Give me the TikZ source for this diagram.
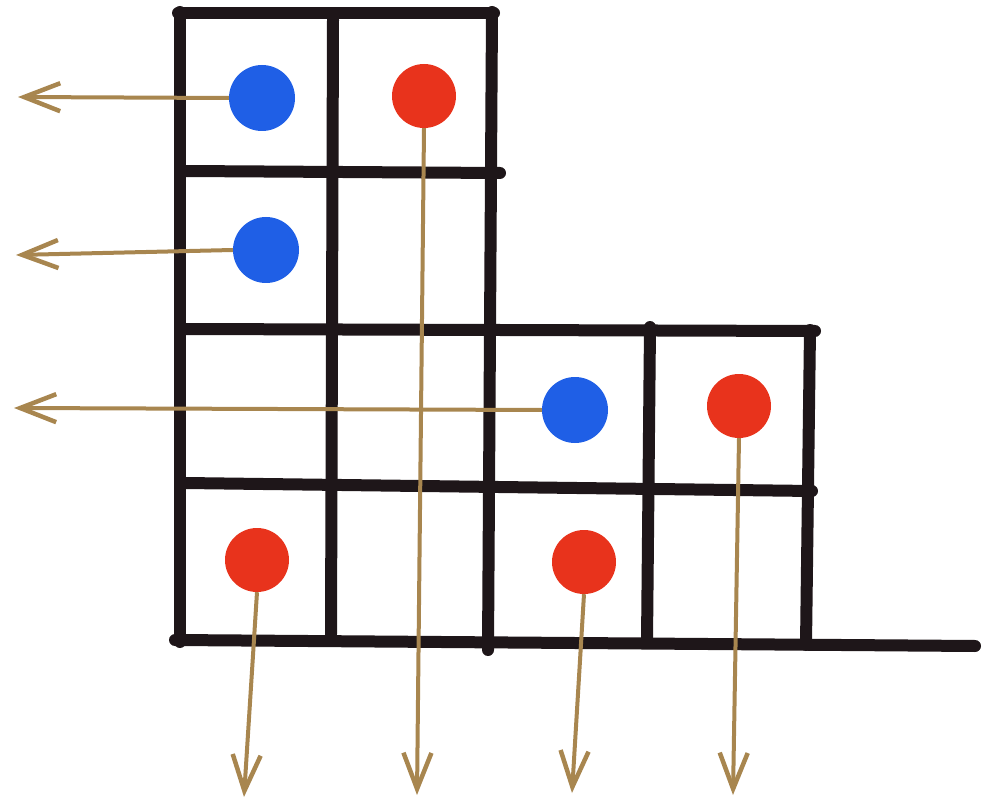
\documentclass[tikz,border=0pt]{standalone}
\usetikzlibrary{arrows.meta}
\definecolor{gridink}{HTML}{1E1619}
\definecolor{dotblue}{HTML}{1F5FE6}
\definecolor{dotred}{HTML}{E8331C}
\definecolor{shaft}{HTML}{A8864F}
\tikzset{
  gridline/.style={draw=gridink,line width=12pt,line cap=round},
  bluedot/.style={circle,fill=dotblue,minimum size=66pt,inner sep=0pt},
  reddot/.style={circle,fill=dotred,minimum size=64pt,inner sep=0pt},
  pointer/.style={draw=shaft,line width=4pt,-{Straight Barb[length=36pt,width=28pt,line width=4.5pt]}},
}
\begin{document}
\begin{tikzpicture}[x=1pt,y=-1pt]
\useasboundingbox (0,0) rectangle (986,805);
% grid
\draw[gridline] (180,12) -- (180,642);
\draw[gridline] (333,20) -- (331,634);
\draw[gridline] (492,12) -- (488,650);
\draw[gridline] (650,327) -- (647,642);
\draw[gridline] (810,330) -- (806,645);
\draw[gridline] (178,13) -- (494,13);
\draw[gridline] (185,171) -- (500,173);
\draw[gridline] (185,329) -- (815,331);
\draw[gridline] (185,483) -- (812,491);
\draw[gridline] (175,640) -- (975,646);
% dots
\node[bluedot] (b1) at (262,98) {};
\node[reddot]  (r1) at (424,96) {};
\node[bluedot] (b2) at (266,250) {};
\node[bluedot] (b3) at (575,410) {};
\node[reddot]  (r2) at (739,406) {};
\node[reddot]  (r3) at (257,560) {};
\node[reddot]  (r4) at (584,562) {};
% end points
\coordinate (e1) at (18,97);
\coordinate (e2) at (16,255);
\coordinate (e3) at (14,408);
\coordinate (e4) at (417,795);
\coordinate (e5) at (244,797);
\coordinate (e6) at (572,793);
\coordinate (e7) at (733,795);
% arrows
\draw[pointer] (b1.west) -- (e1);
\draw[pointer] (b2.west) -- (e2);
\draw[pointer] (b3.west) -- (e3);
\draw[pointer] (r1.south) -- (e4);
\draw[pointer] (r3.south) -- (e5);
\draw[pointer] (r4.south) -- (e6);
\draw[pointer] (r2.south) -- (e7);
\end{tikzpicture}
\end{document}
